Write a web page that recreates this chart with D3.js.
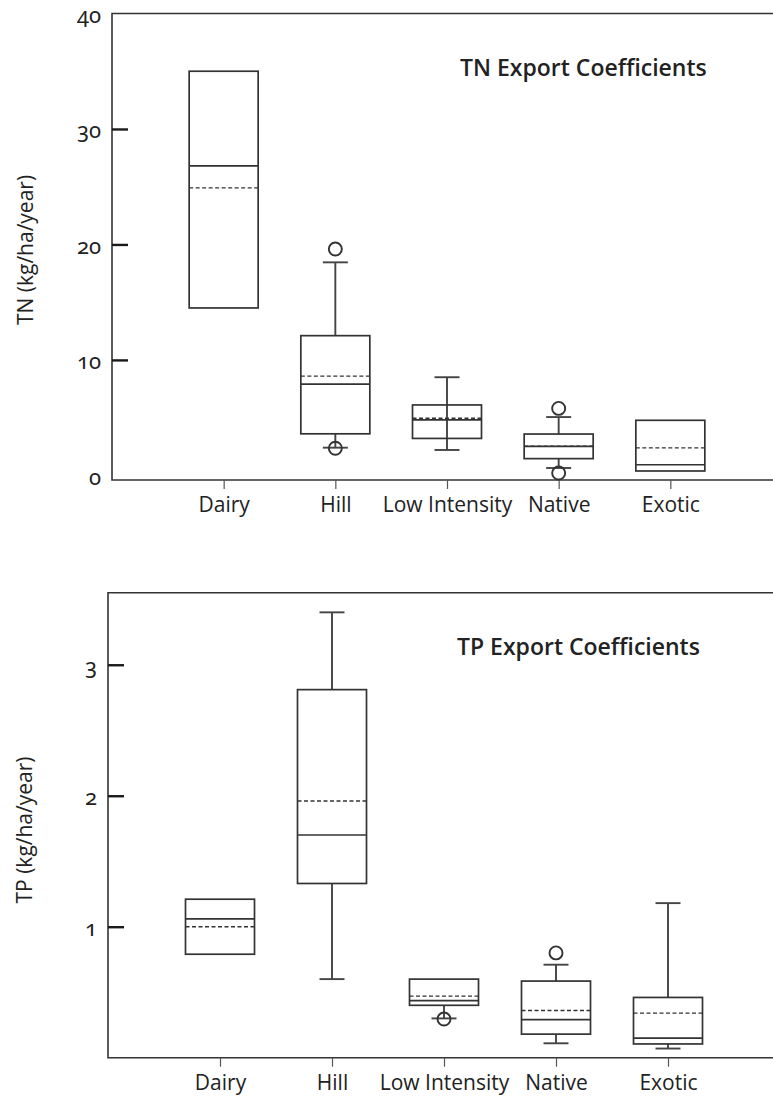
<!DOCTYPE html>
<html>
<head>
<meta charset="utf-8">
<script src="https://cdn.jsdelivr.net/npm/d3@7"></script>
<style>
  body { margin: 0; background: #fff; }
  svg { display: block; font-family: 'Open Sans', sans-serif; }
  .tick text { fill: #222; }
  .ynum text { font-family: 'Noto Sans', sans-serif; font-variant-numeric: oldstyle-nums; font-feature-settings: "onum" 1; }
</style>
</head>
<body>
<svg id="chart" width="773" height="1100"></svg>
<script>
// categories shared by both panels
const categories = ['Dairy', 'Hill', 'Low Intensity', 'Native', 'Exotic'];

// TN export coefficients (kg/ha/year)
const tnQ1 = [14.5, 3.6, 3.2, 1.45, 0.38];
const tnMedian = [26.8, 7.9, 4.8, 2.52, 0.92];
const tnMean = [24.9, 8.6, 4.95, 2.52, 2.38];
const tnQ3 = [35.0, 12.1, 6.1, 3.58, 4.77];
const tnLow = [null, 2.4, 2.2, 0.64, null];
const tnHigh = [null, 18.45, 8.5, 5.05, null];
const tnOutliers = [[], [19.6, 2.35], [], [5.8, 0.2], []];
const tnTickLabels = [0, 10, 20, 30, 40];
const tnTickMarks = [10, 20, 30];

// TP export coefficients (kg/ha/year)
const tpQ1 = [0.79, 1.33, 0.40, 0.18, 0.105];
const tpMedian = [1.06, 1.70, 0.435, 0.29, 0.15];
const tpMean = [1.00, 1.96, 0.47, 0.36, 0.34];
const tpQ3 = [1.21, 2.81, 0.60, 0.585, 0.46];
const tpLow = [null, 0.60, 0.30, 0.11, 0.07];
const tpHigh = [null, 3.40, null, 0.71, 1.18];
const tpOutliers = [[], [], [0.295], [0.80], []];
const tpTickLabels = [1, 2, 3];
const tpTickMarks = [1, 2, 3];

const svg = d3.select('#chart');
const ink = '#333';

function drawPanel(cfg) {
  const g = svg.append('g');

  const x = d3.scalePoint()
    .domain(categories)
    .range([cfg.left, cfg.xEnd])
    .padding(1);

  const y = d3.scaleLinear()
    .domain(cfg.yDomain)
    .range([cfg.bottom, cfg.top]);

  // frame: top, left and bottom edges (right side runs off the page)
  g.append('path')
    .attr('d', `M800,${cfg.top}H${cfg.left}V${cfg.bottom}H800`)
    .attr('fill', 'none')
    .attr('stroke', ink)
    .attr('stroke-width', 1.6);

  // y axis: labels, inner tick marks only where the original has them
  const yAxis = g.append('g')
    .attr('transform', `translate(${cfg.left},0)`)
    .call(d3.axisLeft(y).tickValues(cfg.tickLabels).tickSize(-16).tickPadding(11).tickFormat(d3.format('d')));
  yAxis.select('.domain').remove();
  yAxis.attr('font-size', 22).attr('font-family', null).classed('ynum', true);
  yAxis.selectAll('.tick text').attr('dy', '0.4em');
  yAxis.selectAll('.tick line')
    .attr('stroke', '#1a1a1a')
    .attr('stroke-width', 2.4)
    .attr('display', d => cfg.tickMarks.includes(d) ? null : 'none');

  // x axis
  const xAxis = g.append('g')
    .attr('transform', `translate(0,${cfg.bottom})`)
    .call(d3.axisBottom(x).tickSize(9).tickPadding(8));
  xAxis.select('.domain').remove();
  xAxis.attr('font-size', 21).attr('font-family', null);
  xAxis.selectAll('.tick line').attr('stroke', '#555').attr('stroke-width', 1.2);

  const boxW = 69, capW = 25;
  const rows = categories.map((c, i) => ({
    c, q1: cfg.q1[i], med: cfg.median[i], mean: cfg.mean[i], q3: cfg.q3[i],
    lo: cfg.low[i], hi: cfg.high[i], out: cfg.outliers[i]
  }));

  const box = g.selectAll('.box').data(rows).join('g').attr('class', 'box');

  // whiskers
  box.each(function (d) {
    const b = d3.select(this);
    const cx = x(d.c);
    const through = cfg.throughBox.includes(d.c);
    if (d.hi != null) {
      b.append('line').attr('x1', cx).attr('x2', cx)
        .attr('y1', y(through ? d.q1 : d.q3)).attr('y2', y(d.hi))
        .attr('stroke', '#444').attr('stroke-width', 1.9);
      b.append('line').attr('x1', cx - capW / 2).attr('x2', cx + capW / 2)
        .attr('y1', y(d.hi)).attr('y2', y(d.hi))
        .attr('stroke', '#444').attr('stroke-width', 1.9);
    }
    if (d.lo != null) {
      b.append('line').attr('x1', cx).attr('x2', cx)
        .attr('y1', y(d.q1)).attr('y2', y(d.lo))
        .attr('stroke', '#444').attr('stroke-width', 1.9);
      b.append('line').attr('x1', cx - capW / 2).attr('x2', cx + capW / 2)
        .attr('y1', y(d.lo)).attr('y2', y(d.lo))
        .attr('stroke', '#444').attr('stroke-width', 1.9);
    }
  });

  // box body
  box.append('rect')
    .attr('x', d => x(d.c) - boxW / 2)
    .attr('y', d => y(d.q3))
    .attr('width', boxW)
    .attr('height', d => y(d.q1) - y(d.q3))
    .attr('fill', 'none')
    .attr('stroke', ink)
    .attr('stroke-width', 1.7);

  // median (solid) and mean (dashed)
  box.append('line')
    .attr('x1', d => x(d.c) - boxW / 2).attr('x2', d => x(d.c) + boxW / 2)
    .attr('y1', d => y(d.med)).attr('y2', d => y(d.med))
    .attr('stroke', ink).attr('stroke-width', 1.7);
  box.append('line')
    .attr('x1', d => x(d.c) - boxW / 2).attr('x2', d => x(d.c) + boxW / 2)
    .attr('y1', d => y(d.mean)).attr('y2', d => y(d.mean))
    .attr('stroke', ink).attr('stroke-width', 1.4)
    .attr('stroke-dasharray', '4,2.5');

  // outliers
  box.selectAll('circle')
    .data(d => d.out.map(v => ({ c: d.c, v })))
    .join('circle')
    .attr('cx', d => x(d.c))
    .attr('cy', d => y(d.v))
    .attr('r', 6.5)
    .attr('fill', 'none')
    .attr('stroke', ink)
    .attr('stroke-width', 1.9);

  // panel title
  g.append('text')
    .attr('x', cfg.titleX)
    .attr('y', cfg.titleY)
    .attr('font-size', 23)
    .attr('font-weight', 600)
    .attr('fill', '#222')
    .text(cfg.title);

  // y axis title
  g.append('text')
    .attr('transform', `translate(${cfg.yTitleX},${cfg.yTitleY}) rotate(-90)`)
    .attr('text-anchor', 'middle')
    .attr('font-size', 21)
    .attr('fill', '#222')
    .text(cfg.yTitle);
}

drawPanel({
  left: 112, xEnd: 782, top: 13.5, bottom: 480, yDomain: [-0.4, 40],
  q1: tnQ1, median: tnMedian, mean: tnMean, q3: tnQ3,
  low: tnLow, high: tnHigh, outliers: tnOutliers,
  tickLabels: tnTickLabels, tickMarks: tnTickMarks,
  throughBox: ['Low Intensity'],
  title: 'TN Export Coefficients', titleX: 460, titleY: 76,
  yTitle: 'TN (kg/ha/year)', yTitleX: 33, yTitleY: 250
});

drawPanel({
  left: 108, xEnd: 780, top: 592.7, bottom: 1057.7, yDomain: [0, 3.55],
  q1: tpQ1, median: tpMedian, mean: tpMean, q3: tpQ3,
  low: tpLow, high: tpHigh, outliers: tpOutliers,
  tickLabels: tpTickLabels, tickMarks: tpTickMarks,
  throughBox: [],
  title: 'TP Export Coefficients', titleX: 457, titleY: 655,
  yTitle: 'TP (kg/ha/year)', yTitleX: 32, yTitleY: 830
});
</script>
</body>
</html>
